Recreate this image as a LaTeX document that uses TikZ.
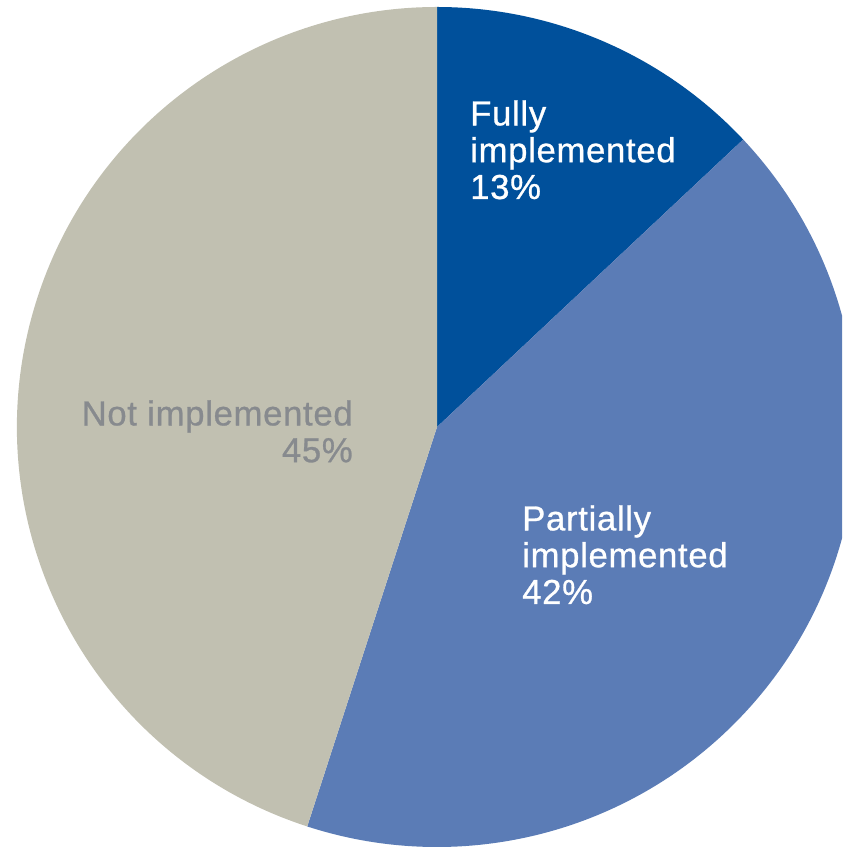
\documentclass[tikz,border=0pt]{standalone}
\usepackage{fontspec}
\setmainfont[LetterSpace=2]{Liberation Sans}
\newfontfamily\piefont[LetterSpace=2,FakeBold=0.8]{Liberation Sans}
\usepackage{tikz}
\usetikzlibrary{positioning}

\definecolor{fullblue}{RGB}{0,80,155}
\definecolor{partblue}{RGB}{91,124,182}
\definecolor{notgray}{RGB}{193,192,177}
\definecolor{labelgray}{RGB}{135,138,142}

\begin{document}
\begin{tikzpicture}[x=0.75pt,y=0.75pt,
  slicelabel/.style={inner sep=0pt, font=\piefont\fontsize{26}{27.6}\selectfont}]
\useasboundingbox (0,0) rectangle (842,849);
\clip (0,0) rectangle (842,849);

% centre of the pie
\coordinate (c) at (437,422);

% Slices
\fill [fullblue] (c) -- ++(90:420) arc [start angle=90, end angle=43.2, radius=420] -- cycle;
\fill [partblue] (c) -- ++(43.2:420) arc [start angle=43.2, end angle=-108, radius=420] -- cycle;
\fill [notgray] (c) -- ++(-108:420) arc [start angle=252, end angle=90, radius=420] -- cycle;

% Text Node
\node (fully) [slicelabel, anchor=north west, align=left, text=white] at (470,749) {Fully\\implemented\\13\%};
% Text Node
\node (partial) [slicelabel, anchor=north west, align=left, text=white] at (522,344) {Partially\\implemented\\42\%};
% Text Node
\node (notimpl) [slicelabel, anchor=north east, align=right, text=labelgray] at (353,449) {Not implemented\\45\%};
\end{tikzpicture}
\end{document}
